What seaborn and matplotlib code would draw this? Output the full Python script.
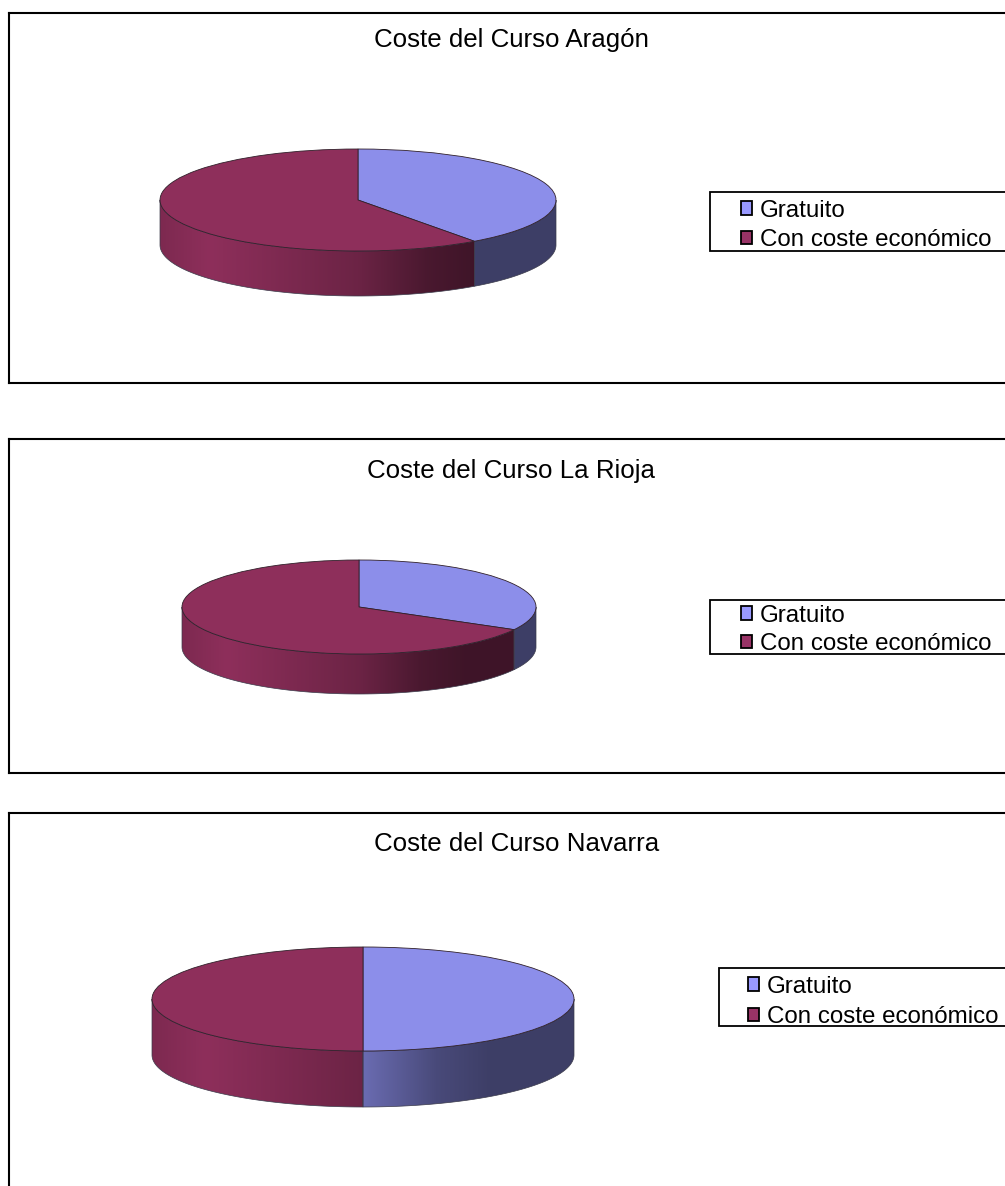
import numpy as np
import matplotlib
matplotlib.use("Agg")
import matplotlib.pyplot as plt
import seaborn as sns
from matplotlib.patches import Patch, Polygon, Rectangle
from matplotlib.colors import to_rgb
from matplotlib.transforms import Affine2D

# ---- data ----
titles = ["Coste del Curso Aragón", "Coste del Curso La Rioja", "Coste del Curso Navarra"]
categories = ["Gratuito", "Con coste económico"]
aragon = [40, 60]
rioja = [33, 67]
navarra = [50, 50]

# ---- style ----
sns.set_theme(style="white")
plt.rcParams["font.family"] = ["Liberation Sans", "DejaVu Sans"]
top_colors = sns.color_palette(["#8C8EEA", "#8E2F5B"])
legend_colors = sns.color_palette(["#9999FF", "#993366"])
W, H = 1005, 1186
FS_TITLE = 18.6
FS_LEG = 17.4

# ---- layout in pixels ----
panels = [
    dict(values=aragon, title=titles[0], box=(9, 13, 1015, 383), c=(358, 200), r=(198, 51), depth=45,
         tx=(511, 40), lg=(710, 192, 251), hx=31, ly=225.5, sp=0.32),
    dict(values=rioja, title=titles[1], box=(9, 439, 1015, 773), c=(359, 607), r=(177, 47), depth=40,
         tx=(511, 471), lg=(710, 600, 654), hx=31, ly=630, sp=0.28),
    dict(values=navarra, title=titles[2], box=(9, 813, 1015, 1200), c=(363, 999), r=(211, 52), depth=56,
         tx=(517, 844), lg=(719, 968, 1026), hx=29, ly=1002, sp=0.36),
]
shade_x = [-1.0, -0.75, 0.0, 0.35, 0.6, 1.0]
shade_v = [0.88, 1.0, 0.76, 0.52, 0.44, 0.44]

fig = plt.figure(figsize=(W / 100, H / 100), dpi=100, facecolor="white")
px = Affine2D().scale(1 / W, -1 / H).translate(0, 1) + fig.transFigure


def side_face(ax, a0, a1, depth, color):
    """Extruded rim between angles a0 > a1 (degrees), shaded along x."""
    th = np.radians(np.linspace(a0, a1, 120))
    x, y = np.cos(th), np.sin(th)
    verts = np.r_[np.c_[x, y], np.c_[x[::-1], y[::-1] - depth]]
    poly = Polygon(verts, closed=True, facecolor="none", edgecolor="#3a3a4a", lw=0.5, zorder=2)
    ax.add_patch(poly)
    xs = np.linspace(-1, 1, 400)
    rgb = np.outer(np.interp(xs, shade_x, shade_v), to_rgb(color))[None, :, :]
    im = ax.imshow(rgb, extent=(-1, 1, -1 - depth, 1), aspect="auto", zorder=1, interpolation="bilinear")
    im.set_clip_path(poly)


for p in panels:
    x0, y0, x1, y1 = p["box"]
    cx, cy = p["c"]
    rx, ry = p["r"]
    ax = fig.add_axes([x0 / W, 1 - y1 / H, (x1 - x0) / W, (y1 - y0) / H])
    xl = ((x0 - cx) / rx, (x1 - cx) / rx)
    yl = ((cy - y1) / ry, (cy - y0) / ry)
    depth = p["depth"] / ry

    wedges, _ = ax.pie(p["values"], colors=top_colors, startangle=90, counterclock=False, radius=1,
                       frame=True, wedgeprops=dict(edgecolor="#30202a", linewidth=0.6))
    for w in wedges:
        w.set_zorder(3)

    boundary = 90 - 360 * p["values"][0] / sum(p["values"])
    side_face(ax, 0, boundary, depth, top_colors[0])
    side_face(ax, boundary, -180, depth, top_colors[1])

    ax.set_aspect("auto")
    ax.set_xlim(*xl)
    ax.set_ylim(*yl)
    ax.set_xticks([])
    ax.set_yticks([])
    for s in ax.spines.values():
        s.set_visible(True)
        s.set_color("black")
        s.set_linewidth(1.5)

    ax.text(p["tx"][0], p["tx"][1], p["title"], transform=px, ha="center", va="center",
            fontsize=FS_TITLE, color="black")

    lx, ly0, ly1 = p["lg"]
    fig.add_artist(Rectangle((lx, ly0), 320, ly1 - ly0, transform=px, facecolor="white",
                             edgecolor="black", linewidth=1.3, zorder=4))
    handles = [Patch(facecolor=c, edgecolor="black", linewidth=1.3) for c in legend_colors]
    leg = fig.legend(handles, categories, loc="center left",
                     bbox_to_anchor=(lx + p["hx"], p["ly"]), bbox_transform=px,
                     frameon=False, fontsize=FS_LEG, handlelength=0.46, handleheight=0.46,
                     handletextpad=0.33, labelspacing=p["sp"], borderpad=0, borderaxespad=0,
                     labelcolor="black")
    leg.set_zorder(5)

fig.savefig("out.png", dpi=100, facecolor="white")
